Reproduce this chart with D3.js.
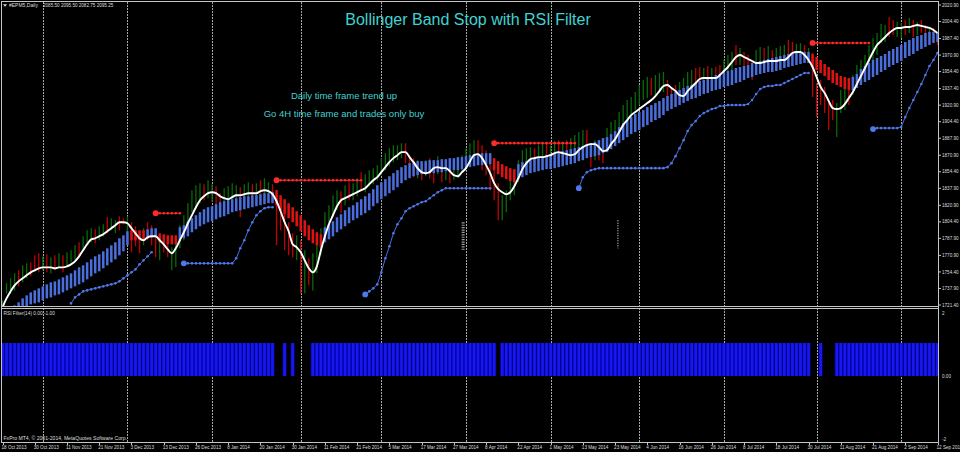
<!DOCTYPE html>
<html><head><meta charset="utf-8">
<script src="https://cdn.jsdelivr.net/npm/d3@7/dist/d3.min.js"></script>
<style>html,body{margin:0;padding:0;background:#000;overflow:hidden}svg{display:block}</style>
</head><body>
<svg id="c" width="960" height="452"></svg>
<script>
// ---------------- DATA ----------------
const dateLabels = ["18 Oct 2013","30 Oct 2013","11 Nov 2013","21 Nov 2013","3 Dec 2013","13 Dec 2013","26 Dec 2013","8 Jan 2014","20 Jan 2014","30 Jan 2014","11 Feb 2014","21 Feb 2014","5 Mar 2014","17 Mar 2014","27 Mar 2014","8 Apr 2014","22 Apr 2014","1 May 2014","13 May 2014","23 May 2014","4 Jun 2014","16 Jun 2014","26 Jun 2014","8 Jul 2014","18 Jul 2014","30 Jul 2014","11 Aug 2014","21 Aug 2014","2 Sep 2014","12 Sep 2014"];
const labelEvery = 8;
const monthStarts = [10,31,52,74,94,115,136,158,179,202,223];
const priceTicks = ["2020.90","2004.40","1987.40","1970.90","1954.40","1937.40","1920.90","1904.40","1887.90","1870.90","1854.40","1837.90","1820.90","1804.40","1787.90","1770.90","1754.40","1737.90","1721.40"];
const rsiTicks = [["2",2],["0.00",0],["-2",-2]];

const barHigh = [
1726,1743,1748,1753,1756,1761,1763,1764,1771,1773,
1770,1772,1769,1771,1773,1771,1774,1776,1781,1784,
1790,1796,1798,1797,1800,1802,1809,1808,1806,1810,
1808,1810,1804,1800,1793,1798,1804,1801,1793,1786,
1790,1789,1779,1783,1801,1811,1823,1836,1841,1843,
1842,1846,1842,1840,1833,1838,1840,1843,1841,1839,
1842,1844,1842,1843,1846,1848,1844,1842,1836,1821,
1816,1804,1793,1791,1786,1776,1768,1773,1786,1798,
1814,1821,1831,1836,1835,1841,1844,1843,1848,1854,
1852,1856,1858,1861,1868,1873,1878,1881,1881,1883,
1883,1871,1868,1866,1864,1866,1868,1866,1870,1864,
1866,1863,1861,1866,1871,1878,1883,1886,1886,1881,
1876,1866,1863,1843,1831,1836,1846,1853,1866,1876,
1878,1879,1878,1881,1883,1884,1881,1885,1886,1884,
1886,1888,1891,1894,1896,1896,1883,1886,1883,1879,
1898,1904,1906,1914,1921,1926,1929,1934,1941,1946,
1949,1948,1951,1953,1954,1946,1939,1941,1944,1948,
1954,1956,1958,1959,1958,1960,1958,1959,1961,1966,
1971,1974,1981,1978,1974,1971,1964,1976,1979,1978,
1980,1976,1978,1980,1981,1986,1984,1982,1983,1981,
1978,1973,1943,1946,1939,1923,1926,1923,1936,1938,
1941,1951,1961,1966,1971,1981,1988,1993,2002,2001,
2009,2006,2004,2003,2006,2008,2006,2004,2006,2001,
1999,1998,1994];
const barLow = [
1714,1733,1733,1736,1740,1744,1748,1750,1756,1754,
1756,1754,1753,1756,1758,1754,1760,1764,1766,1768,
1776,1782,1784,1783,1786,1790,1793,1796,1793,1796,
1802,1794,1774,1780,1773,1781,1786,1781,1769,1766,
1774,1769,1756,1759,1778,1786,1791,1814,1818,1823,
1826,1828,1824,1821,1809,1816,1820,1823,1826,1809,
1824,1828,1826,1828,1830,1832,1829,1826,1781,1796,
1776,1771,1769,1766,1733,1733,1741,1736,1753,1771,
1786,1796,1811,1816,1813,1821,1826,1826,1830,1836,
1834,1840,1842,1846,1851,1856,1860,1864,1866,1868,
1863,1851,1849,1848,1846,1850,1848,1843,1852,1844,
1846,1843,1846,1848,1854,1861,1866,1868,1861,1856,
1851,1836,1826,1806,1806,1814,1826,1831,1844,1851,
1858,1861,1861,1864,1863,1866,1861,1868,1869,1866,
1870,1871,1874,1876,1878,1873,1859,1866,1866,1863,
1879,1881,1886,1893,1899,1906,1909,1916,1921,1926,
1928,1931,1931,1936,1934,1926,1923,1926,1929,1934,
1936,1938,1940,1941,1940,1943,1938,1941,1943,1946,
1954,1956,1961,1961,1956,1954,1946,1958,1960,1961,
1964,1963,1960,1962,1964,1969,1964,1966,1968,1966,
1964,1929,1909,1921,1913,1896,1906,1889,1913,1916,
1921,1931,1938,1944,1949,1958,1966,1971,1983,1984,
1989,1991,1989,1988,1991,1993,1989,1991,1993,1988,
1986,1984,1981];
const barDir = ["ggggrggrrr","grgrgrgggr","gggrggrggr","rgrrrgrrrg","rrgggggggg","rggrrggggr","ggrgrggrrr","rrrgrgrggg","ggggrgrggr","gggggggggg","rrrgrgrrgr","grggggggrr","rrrrgggggg","ggrggrggrg","rggggrrgrr","gggggggggg","grgggrrrgg","ggrrgrgrrg","ggrgrrrggr","grgggrrggr","grrrrrrggg","rggggggggg","rrggrgrgrr","grr"];

const maLine = [
1719,1728,1735,1741,1745,1748,1751,1754,1756,1758,
1759,1759,1759,1758,1759,1759,1760,1762,1765,1770,
1776,1782,1787,1788,1790,1792,1795,1798,1801,1804,
1804,1803,1798,1793,1788,1786,1789,1790,1790,1786,
1782,1777,1773,1778,1786,1794,1803,1811,1819,1826,
1830,1833,1834,1833,1830,1828,1827,1829,1831,1831,
1832,1833,1833,1833,1835,1836,1835,1832,1825,1815,
1804,1795,1782,1779,1774,1766,1758,1754,1760,1776,
1790,1802,1811,1820,1826,1828,1830,1832,1834,1836,
1838,1842,1846,1849,1854,1859,1864,1868,1871,1874,
1874,1869,1864,1858,1854,1853,1854,1858,1859,1858,
1858,1855,1851,1850,1854,1858,1865,1871,1872,1868,
1861,1853,1843,1837,1834,1832,1834,1840,1848,1857,
1863,1867,1868,1869,1869,1870,1871,1873,1874,1873,
1872,1871,1872,1876,1879,1881,1882,1882,1879,1875,
1876,1882,1887,1894,1901,1906,1911,1914,1917,1920,
1923,1926,1930,1935,1940,1941,1938,1935,1931,1930,
1935,1939,1943,1947,1948,1948,1948,1948,1951,1955,
1959,1964,1969,1971,1969,1967,1965,1963,1963,1964,
1965,1965,1965,1966,1966,1969,1973,1974,1974,1971,
1966,1959,1949,1939,1933,1925,1918,1917,1918,1922,
1928,1934,1942,1950,1958,1966,1974,1981,1985,1989,
1993,1996,1998,1998,1999,1999,2000,2001,2000,1999,
1998,1996,1993];

const bandUpper = [
1712,1715,1718,1721,1724,1728,1731,1734,1736,1738,
1740,1742,1744,1745,1747,1749,1751,1753,1756,1759,
1761,1764,1767,1770,1772,1775,1778,1781,1784,1788,
1791,1795,1796,1796,1796,1796,1797,1798,1798,1793,
1792,1791,1791,1791,1799,1801,1805,1808,1811,1814,
1817,1819,1820,1822,1824,1825,1826,1827,1828,1829,
1830,1830,1831,1831,1832,1833,1833,1834,1836,1831,
1827,1823,1819,1815,1811,1806,1801,1797,1794,1792,
1799,1802,1805,1809,1812,1816,1819,1821,1824,1827,
1830,1833,1837,1841,1844,1847,1850,1853,1856,1859,
1861,1863,1864,1865,1865,1865,1866,1866,1866,1867,
1867,1868,1868,1869,1869,1870,1871,1872,1872,1873,
1873,1873,1868,1865,1862,1860,1858,1857,1862,1864,
1865,1866,1868,1869,1870,1871,1872,1873,1874,1875,
1876,1877,1878,1879,1880,1882,1883,1884,1886,1888,
1889,1892,1895,1899,1903,1906,1909,1912,1914,1916,
1919,1921,1923,1925,1928,1930,1932,1934,1936,1938,
1940,1941,1943,1945,1946,1948,1949,1951,1952,1954,
1955,1956,1958,1959,1960,1961,1963,1964,1965,1966,
1967,1968,1969,1970,1971,1972,1973,1973,1974,1974,
1974,1972,1969,1966,1962,1959,1956,1953,1950,1949,
1948,1949,1952,1957,1960,1963,1966,1968,1970,1972,
1975,1977,1979,1981,1984,1986,1988,1990,1991,1993,
1994,1994,1993];
const bandLower = [
1698,1701,1705,1709,1713,1717,1720,1722,1723,1724,
1726,1728,1729,1731,1732,1734,1736,1738,1740,1742,
1744,1747,1750,1753,1755,1758,1761,1764,1767,1771,
1775,1781,1786,1786,1786,1786,1788,1789,1789,1784,
1783,1782,1782,1782,1786,1788,1790,1794,1797,1800,
1802,1804,1805,1807,1809,1810,1812,1814,1815,1816,
1817,1818,1819,1820,1821,1822,1823,1823,1821,1816,
1812,1808,1804,1800,1795,1790,1786,1783,1781,1779,
1784,1787,1790,1794,1797,1800,1803,1806,1808,1811,
1813,1816,1820,1823,1827,1830,1833,1836,1839,1843,
1846,1848,1850,1851,1852,1852,1853,1853,1854,1854,
1855,1855,1856,1856,1857,1858,1859,1860,1861,1861,
1862,1862,1856,1852,1849,1847,1845,1844,1847,1849,
1851,1853,1854,1855,1856,1857,1857,1858,1859,1860,
1861,1862,1863,1865,1866,1868,1869,1870,1871,1873,
1874,1877,1880,1883,1886,1889,1892,1894,1896,1899,
1901,1904,1906,1908,1911,1915,1917,1919,1921,1923,
1925,1927,1928,1930,1932,1933,1935,1936,1937,1939,
1940,1941,1943,1944,1946,1948,1949,1951,1952,1953,
1954,1954,1955,1956,1958,1959,1960,1961,1962,1963,
1963,1959,1956,1953,1950,1946,1943,1941,1939,1937,
1936,1936,1938,1941,1944,1946,1949,1951,1954,1956,
1959,1961,1963,1965,1968,1970,1972,1975,1977,1979,
1981,1983,1984];
// bars where the band stop is bearish (red)
const bearRuns = [[32,35],[39,43],[68,79],[122,127],[201,210]];

// up-trend stop (blue dotted) segments
const supportStops = [
  {start:17, values:[1723,1729,1732,1735,1736,1737,1738,1739,1740,1741,1742,1743,1745,1748,1751,1754,1757,1762,1766,1770,1774]},
  {start:45, values:[1763,1763,1763,1763,1763,1763,1763,1763,1763,1763,1763,1763,1763,1768,1778,1786,1796,1804,1811,1815,1818,1819,1819]},
  {start:90, values:[1732,1735,1738,1742,1754,1768,1780,1793,1802,1808,1815,1818,1820,1822,1824,1825,1828,1831,1834,1836,1838,1838,1838,1838,1838,1838,1838,1838,1838,1838,1838,1838]},
  {start:143, values:[1838,1849,1854,1856,1857,1858,1858,1858,1858,1858,1858,1858,1858,1858,1858,1858,1858,1858,1858,1858,1858,1858,1859,1863,1870,1878,1886,1895,1901,1905,1910,1913,1915,1917,1918,1920,1920,1921,1921,1921,1921,1921,1922,1926,1932,1937,1939,1940,1940,1941,1941,1943,1945,1947,1949,1951,1953,1953]},
  {start:216, values:[1897,1898,1898,1898,1898,1898,1898,1899,1909,1918,1926,1934,1942,1951,1960,1966,1973]}
];
// down-trend stop (red dotted) segments
const resistStops = [
  {start:38, end:44, level:1813},
  {start:68, end:89, level:1846},
  {start:122, end:142, level:1883},
  {start:201, end:215, level:1983}
];
// RSI filter histogram: 1 = buy allowed, 0 = none
const rsiFilter = ["1111111111","1111111111","1111111111","1111111111","1111111111","1111111111","1111111100","1010000111","1111111111","1111111111","1111111111","1111111111","1110111111","1111111111","1111111111","1111111111","1111111111","1111111111","1111111111","1111111111","1001000111","1111111111","1111111111","111"];
// small chart objects (dotted vertical marks)
const chartObjects = [
  {bar:114.3, top:1804, bottom:1776, kind:"ladder"},
  {bar:152.7, top:1806, bottom:1778, kind:"dots"}
];

// ---------------- CHART ----------------
const svg = d3.select("#c");
const N = maLine.length;
const x = d3.scaleLinear().domain([0, 232]).range([2.5, 937.5]);
const y = d3.scaleLinear().domain([1721.4, 2020.9]).range([305, 5]);
const yR = d3.scaleLinear().domain([-2, 2]).range([442, 310]);
const dirs = barDir.join("");
const rsi = rsiFilter.join("").split("").map(Number);
const isBear = i => bearRuns.some(([a,b]) => i >= a && i <= b);
const idx = d3.range(N);
const axisCol = "#c4c4c4", txtCol = "#dedede";
const small = "Liberation Sans, Arial, sans-serif";

svg.append("rect").attr("width",960).attr("height",452).attr("fill","#000");
const defs = svg.append("defs");
defs.append("clipPath").attr("id","mainClip").append("rect").attr("x",2).attr("y",2).attr("width",936).attr("height",304.5);
defs.append("clipPath").attr("id","rsiClip").append("rect").attr("x",2).attr("y",309).attr("width",936).attr("height",133);

// vertical dotted grid
svg.append("g").selectAll("line").data(monthStarts).join("line")
  .attr("x1", d => Math.round(x(d)) + 0.5).attr("x2", d => Math.round(x(d)) + 0.5)
  .attr("y1", 2).attr("y2", 442)
  .attr("stroke", "#a8a8a8").attr("stroke-width", 1).attr("stroke-dasharray", "2,1");

// ---- main panel ----
const main = svg.append("g").attr("clip-path","url(#mainClip)");

// OHLC bars (high-low)
main.append("g").selectAll("line").data(idx).join("line")
  .attr("x1", i => x(i)).attr("x2", i => x(i))
  .attr("y1", i => y(barHigh[i])).attr("y2", i => y(barLow[i]))
  .attr("stroke", i => dirs[i] === "g" ? "#086a08" : "#c20000")
  .attr("stroke-width", 1.3);

// band stop histogram
main.append("g").selectAll("rect").data(idx).join("rect")
  .attr("x", i => x(i) - 1.25).attr("width", 2.5)
  .attr("y", i => y(bandUpper[i]))
  .attr("height", i => y(bandLower[i]) - y(bandUpper[i]))
  .attr("fill", i => isBear(i) ? "#e31212" : "#4a6fdc");

// support stops
const sg = main.append("g");
supportStops.forEach((seg, si) => {
  const pts = seg.values.map((v, k) => [x(seg.start + k), y(v)]);
  sg.append("path").attr("d", d3.line()(pts)).attr("fill","none").attr("stroke","#4a70e0").attr("stroke-width",1);
  sg.append("g").selectAll("circle").data(pts).join("circle")
    .attr("cx", d => d[0]).attr("cy", d => d[1]).attr("r", 1.3).attr("fill", "#5078ea");
  if (si > 0) sg.append("circle").attr("cx", pts[0][0]).attr("cy", pts[0][1]).attr("r", 2.9).attr("fill", "#5078ea");
});
// resistance stops
const rg = main.append("g");
resistStops.forEach(seg => {
  const bars = d3.range(seg.start, seg.end + 1);
  rg.append("line").attr("x1", x(seg.start)).attr("x2", x(seg.end))
    .attr("y1", y(seg.level)).attr("y2", y(seg.level))
    .attr("stroke","#ff2424").attr("stroke-width",1);
  rg.append("g").selectAll("circle").data(bars).join("circle")
    .attr("cx", i => x(i)).attr("cy", y(seg.level)).attr("r", 1.3).attr("fill","#ff2a2a");
  rg.append("circle").attr("cx", x(seg.start)).attr("cy", y(seg.level)).attr("r", 2.9).attr("fill","#ff2a2a");
});

// moving average (white)
main.append("path")
  .attr("d", d3.line().x(i => x(i)).y(i => y(maLine[i])).curve(d3.curveMonotoneX)(idx))
  .attr("fill","none").attr("stroke","#ffffff").attr("stroke-width",1.9);

// chart objects
chartObjects.forEach(o => {
  main.append("line").attr("x1", x(o.bar)).attr("x2", x(o.bar))
    .attr("y1", y(o.top)).attr("y2", y(o.bottom))
    .attr("stroke", o.kind === "ladder" ? "#9c9c9c" : "#cfcfcf")
    .attr("stroke-width", o.kind === "ladder" ? 3 : 1.2)
    .attr("stroke-dasharray", o.kind === "ladder" ? "1.2,1.2" : "1,1.5");
});

// ---- RSI panel ----
const rp = svg.append("g").attr("clip-path","url(#rsiClip)");
const on = idx.filter(i => rsi[i] === 1);
rp.append("g").selectAll("rect").data(on).join("rect")
  .attr("x", i => x(i) - 2.02).attr("width", 4.04)
  .attr("y", yR(1)).attr("height", yR(0) - yR(1)).attr("fill", "#0000a8");
rp.append("g").selectAll("rect").data(on).join("rect")
  .attr("x", i => x(i) - 1.35).attr("width", 2.7)
  .attr("y", yR(1)).attr("height", yR(0) - yR(1)).attr("fill", "#1818ee");

// ---- frame & axes ----
const fr = svg.append("g").attr("stroke", axisCol).attr("stroke-width", 1).attr("fill","none");
fr.append("line").attr("x1",1).attr("x2",938.5).attr("y1",1.5).attr("y2",1.5);
fr.append("line").attr("x1",1.5).attr("x2",1.5).attr("y1",1).attr("y2",442.5);
fr.append("line").attr("x1",938.5).attr("x2",938.5).attr("y1",1).attr("y2",442.5);
fr.append("line").attr("x1",1).attr("x2",938.5).attr("y1",306.5).attr("y2",306.5);
fr.append("line").attr("x1",1).attr("x2",938.5).attr("y1",308.5).attr("y2",308.5);
fr.append("line").attr("x1",1).attr("x2",938.5).attr("y1",442.5).attr("y2",442.5);

// price axis
const pa = svg.append("g");
pa.selectAll("line").data(priceTicks).join("line")
  .attr("x1",938.5).attr("x2",941).attr("y1", d => y(+d)).attr("y2", d => y(+d))
  .attr("stroke", axisCol);
pa.selectAll("text").data(priceTicks).join("text")
  .attr("x", 942).attr("y", d => y(+d)).attr("dy","0.35em")
  .attr("font-family", small).attr("font-size", 4.6).attr("fill", txtCol).text(d => d);

// RSI axis
svg.append("g").selectAll("text").data(rsiTicks).join("text")
  .attr("x", 942).attr("y", d => d[1] === 2 ? 313 : d[1] === -2 ? 439 : yR(d[1]))
  .attr("dy","0.35em").attr("font-family", small).attr("font-size", 4.6).attr("fill", txtCol).text(d => d[0]);

// date axis
const da = svg.append("g");
da.selectAll("line").data(dateLabels).join("line")
  .attr("x1", (d,k) => Math.round(x(k*labelEvery)) + 0.5).attr("x2", (d,k) => Math.round(x(k*labelEvery)) + 0.5)
  .attr("y1", 442.5).attr("y2", 445).attr("stroke", axisCol);
da.selectAll("text").data(dateLabels).join("text")
  .attr("x", (d,k) => x(k*labelEvery) - 1).attr("y", 449)
  .attr("font-family", small).attr("font-size", 4.6).attr("fill", txtCol).text(d => d);

// header / captions
svg.append("path").attr("d","M3,4.2 L7,4.2 L5,6.8 Z").attr("fill","#e0e0e0");
svg.append("text").attr("x",9).attr("y",7.3).attr("font-family",small).attr("font-size",5).attr("fill",txtCol).text("#EPM5,Daily");
svg.append("text").attr("x",43).attr("y",7.3).attr("font-family",small).attr("font-size",4.6).attr("fill",txtCol).text("2085.50 2095.50 2082.75 2095.25");
svg.append("text").attr("x",3.5).attr("y",315).attr("font-family",small).attr("font-size",4.8).attr("fill",txtCol).text("RSI Filter(14) 0.00 -1.00");
svg.append("text").attr("x",3.5).attr("y",439.5).attr("font-family",small).attr("font-size",5.1).attr("fill",txtCol).text("FxPro MT4, \u00a9 2001-2014, MetaQuotes Software Corp.");

const cyan = "#40d2d0";
svg.append("text").attr("x",468).attr("y",25).attr("text-anchor","middle")
  .attr("font-family","Liberation Sans, Arial, sans-serif").attr("font-size",16).attr("fill",cyan)
  .text("Bollinger Band Stop with RSI Filter");
svg.append("text").attr("x",344).attr("y",98.5).attr("text-anchor","middle")
  .attr("font-family","Liberation Sans, Arial, sans-serif").attr("font-size",9.5).attr("fill",cyan)
  .text("Daily time frame trend up");
svg.append("text").attr("x",344).attr("y",117).attr("text-anchor","middle")
  .attr("font-family","Liberation Sans, Arial, sans-serif").attr("font-size",9.5).attr("fill",cyan)
  .text("Go 4H time frame and trades only buy");
</script>
</body></html>
